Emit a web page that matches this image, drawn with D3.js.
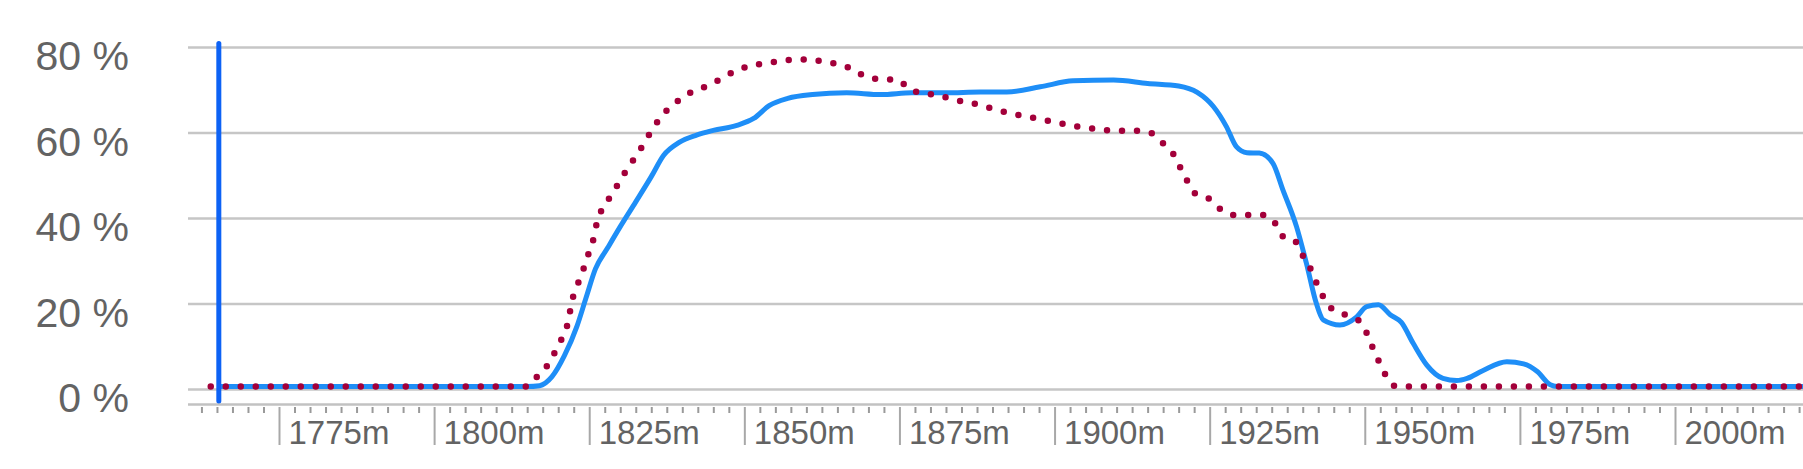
<!DOCTYPE html>
<html>
<head>
<meta charset="utf-8">
<script src="https://cdn.jsdelivr.net/npm/d3@7"></script>
<style>
html, body { margin: 0; padding: 0; background: #fff; }
svg { display: block; }
</style>
</head>
<body>
<div id="chart"></div>
<script>
// values (share in %)
var yTicks = [0, 20, 40, 60, 80];
var majorYears = [1775, 1800, 1825, 1850, 1875, 1900, 1925, 1950, 1975, 2000];

var blueYears = [1765, 1790, 1815, 1817, 1819, 1821, 1823, 1824.5, 1826, 1828, 1830, 1832.5, 1835, 1837, 1839.5,
  1842.3, 1845, 1848.8, 1851.5, 1854, 1857, 1861, 1866.5, 1872, 1877, 1882.5, 1888, 1892.3, 1897.7, 1903,
  1909.5, 1915, 1920, 1923, 1925.6, 1927.7, 1929.3, 1931, 1933, 1935.2, 1936.8, 1939, 1940.6, 1942.2, 1943.3,
  1946, 1948.7, 1950.3, 1952.2, 1954.1, 1955.9, 1957.8, 1960, 1962.6, 1964.8, 1966.5, 1969, 1972.9, 1975.6,
  1977.8, 1979.9, 1981, 2000, 2021];
var blueValues = [0.7, 0.7, 0.7, 0.9, 3.0, 7.9, 14.7, 21.5, 28.2, 33.2, 38.1, 43.9, 49.8, 54.8, 57.8,
  59.5, 60.6, 61.8, 63.4, 66.4, 68.1, 69.0, 69.4, 69.0, 69.4, 69.4, 69.6, 69.6, 70.8, 72.2,
  72.4, 71.6, 71.0, 69.5, 66.2, 61.5, 56.8, 55.4, 55.3, 52.9, 46.7, 38.1, 29.5, 20.1, 16.3,
  15.1, 17.0, 19.4, 19.8, 17.5, 15.7, 10.8, 5.7, 2.6, 2.1, 2.6, 4.4, 6.5, 6.0,
  4.2, 1.1, 0.7, 0.7, 0.7];

var redYears = [1764, 1790, 1815, 1816, 1817.9, 1819.2, 1820.3, 1821.4, 1822.4, 1823.2, 1824.1, 1824.9, 1825.7,
  1826.2, 1827, 1828.4, 1829.7, 1831, 1832.4, 1833.7, 1835.1, 1836.4, 1838, 1839.9, 1842.1, 1844.5, 1846.4,
  1848.8, 1850.9, 1853.3, 1855.8, 1858.2, 1860.6, 1863.3, 1865.7, 1867.8, 1870, 1872.4, 1874.8, 1876.7, 1879.1,
  1881.5, 1884, 1886.4, 1888.8, 1891.2, 1893.6, 1896, 1898.5, 1900.9, 1903.3, 1905.7, 1908.1, 1910.6, 1913.2,
  1915.7, 1917.5, 1919.1, 1920.2, 1921.3, 1922.6, 1924.8, 1926.7, 1928.8, 1931.2, 1933.6, 1935.5, 1936.8,
  1938.7, 1940.1, 1941.2, 1942.2, 1943.3, 1944.6, 1946.8, 1949.2, 1950.3, 1951.3, 1952.4, 1953.5, 1955.1, 2021];
var redValues = [0.7, 0.7, 0.7, 2.2, 4.9, 8.0, 11.1, 14.7, 21.7, 24.8, 28.3, 31.8, 35.3,
  38.8, 42.0, 45.1, 48.2, 51.3, 54.3, 57.2, 60.7, 63.4, 66.0, 68.1, 70.1, 71.2, 72.9,
  74.6, 75.7, 76.3, 76.8, 77.2, 77.2, 76.5, 75.9, 74.6, 72.9, 72.6, 72.4, 70.1, 69.3,
  68.7, 67.7, 67.1, 66.2, 65.2, 64.4, 63.7, 63.0, 62.3, 61.6, 61.1, 60.7, 60.5, 60.5,
  59.9, 57.6, 55.2, 52.1, 49.0, 45.9, 44.7, 42.2, 40.8, 40.8, 40.8, 39.0, 35.8,
  34.8, 31.1, 28.4, 25.0, 21.7, 19.0, 17.5, 15.9, 13.2, 9.7, 6.2, 3.0, 0.7, 0.7];

var markerYear = 1765.3;

var width = 1803, height = 469;
var plotLeft = 188, plotRight = 1803;

var x = d3.scaleLinear().domain([1775, 2000]).range([279, 1675]);
var y = d3.scaleLinear().domain([0, 80]).range([389.5, 47.5]);

var svg = d3.select("#chart").append("svg")
  .attr("width", width)
  .attr("height", height);

svg.append("defs").append("clipPath").attr("id", "plot")
  .append("rect").attr("x", plotLeft).attr("y", 0)
  .attr("width", plotRight - plotLeft).attr("height", height);

// horizontal grid
svg.append("g").selectAll("line").data(yTicks).enter().append("line")
  .attr("x1", plotLeft).attr("x2", plotRight)
  .attr("y1", function(d) { return y(d); })
  .attr("y2", function(d) { return y(d); })
  .attr("stroke", "#c6c6c6")
  .attr("stroke-width", 2.5);

// y labels
var yAxis = d3.axisLeft(y).tickValues(yTicks).tickSize(0).tickPadding(0)
  .tickFormat(function(d) { return d + " %"; });
var gy = svg.append("g").attr("transform", "translate(129,0)").call(yAxis);
gy.select(".domain").remove();
gy.selectAll("text")
  .attr("dy", 22)
  .attr("font-family", "Arial, 'Liberation Sans', sans-serif")
  .attr("font-size", 41)
  .attr("fill", "#636363");

// x axis line
svg.append("line")
  .attr("x1", plotLeft).attr("x2", plotRight)
  .attr("y1", 404.5).attr("y2", 404.5)
  .attr("stroke", "#c2c2c2")
  .attr("stroke-width", 2.5);

// minor ticks every 2.5 years
var minorTicks = d3.range(1762.5, 2021, 2.5).filter(function(d) { return d % 25 !== 0; });
var gMinor = svg.append("g").attr("transform", "translate(0,407)")
  .call(d3.axisBottom(x).tickValues(minorTicks).tickSize(6).tickSizeOuter(0).tickFormat(""));
gMinor.select(".domain").remove();
gMinor.selectAll("line").attr("stroke", "#9a9a9a").attr("stroke-width", 2);

// major ticks with labels to the right
var gMajor = svg.append("g").attr("transform", "translate(0,407)")
  .call(d3.axisBottom(x).tickValues(majorYears).tickSize(38).tickSizeOuter(0)
    .tickFormat(function(d) { return d + "m"; }));
gMajor.select(".domain").remove();
gMajor.selectAll("line").attr("stroke", "#a8a8a8").attr("stroke-width", 2);
gMajor.selectAll("text")
  .attr("text-anchor", "start")
  .attr("x", 9)
  .attr("y", 37)
  .attr("dy", 0)
  .attr("font-family", "Arial, 'Liberation Sans', sans-serif")
  .attr("font-size", 33)
  .attr("fill", "#636363");

var line = d3.line()
  .x(function(d) { return x(d[0]); })
  .y(function(d) { return y(d[1]); })
  .curve(d3.curveMonotoneX);

var blue = blueYears.map(function(d, i) { return [d, blueValues[i]]; });
var red = redYears.map(function(d, i) { return [d, redValues[i]]; });

var plot = svg.append("g").attr("clip-path", "url(#plot)");

plot.append("path")
  .datum(blue)
  .attr("d", line)
  .attr("fill", "none")
  .attr("stroke", "#1e8ef7")
  .attr("stroke-width", 5)
  .attr("stroke-linejoin", "round");

plot.append("path")
  .datum(red)
  .attr("d", line)
  .attr("fill", "none")
  .attr("stroke", "#a3003a")
  .attr("stroke-width", 6.5)
  .attr("stroke-linecap", "round")
  .attr("stroke-dasharray", "0 15");

// marker line
svg.append("line")
  .attr("x1", x(markerYear)).attr("x2", x(markerYear))
  .attr("y1", 43.5).attr("y2", 401)
  .attr("stroke", "#0d62f5")
  .attr("stroke-width", 5)
  .attr("stroke-linecap", "round");
</script>
</body>
</html>
